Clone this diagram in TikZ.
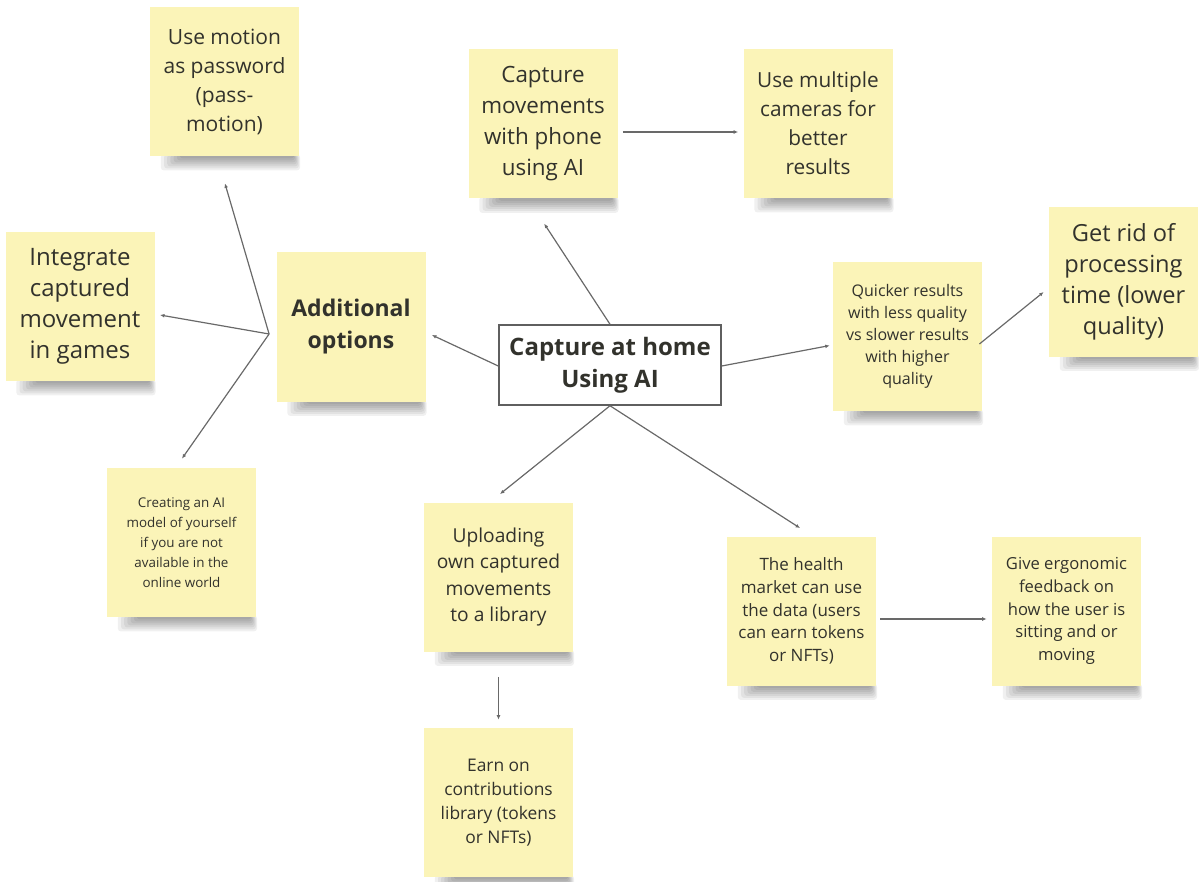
\documentclass[tikz,border=0pt]{standalone}
\usepackage{fontspec}
\setmainfont{Open Sans}
\usetikzlibrary{arrows.meta}
\definecolor{notefill}{RGB}{251,244,184}
\definecolor{ink}{RGB}{50,50,44}
\definecolor{wirecol}{RGB}{105,105,105}
\definecolor{boxline}{RGB}{95,95,95}
\pgfdeclarelayer{shadow}
\pgfsetlayers{shadow,main}
\begin{document}
\begin{tikzpicture}[x=0.5pt,y=-0.5pt,
  note/.style={fill=notefill, text=ink, minimum width=74.5pt, minimum height=74.5pt, inner sep=0pt, align=center},
  central/.style={fill=white, draw=boxline, line width=0.75pt, text=ink, minimum width=111pt, minimum height=40pt, inner sep=0pt, align=center, font=\bfseries\fontsize{12}{16}\selectfont},
  wire/.style={draw=wirecol, line width=0.6pt, -{Latex[length=2.2pt,width=1.9pt]}}
]
\useasboundingbox (0,0) rectangle (1199,882);

% nodes
\node[note, font=\fontsize{10.5}{14.5}\selectfont] (m1) at (224.5,81.5) {Use motion\\as password\\(pass-\\motion)};
\node[note, font=\fontsize{12}{15.5}\selectfont] (integ) at (80,306.5) {Integrate\\captured\\movement\\in games};
\node[note, font=\bfseries\fontsize{11.5}{16}\selectfont] (addl) at (351,327) {Additional\\options};
\node[note, font=\fontsize{6.7}{10}\selectfont] (creat) at (181.5,542.5) {Creating an AI\\model of yourself\\if you are not\\available in the\\online world};
\node[central] (cen) at (610,365) {Capture at home\\Using AI};
\node[note, font=\fontsize{11.2}{15.5}\selectfont] (capt) at (543,124) {Capture\\movements\\with phone\\using AI};
\node[note, font=\fontsize{10.4}{14.5}\selectfont] (multi) at (818,123.5) {Use multiple\\cameras for\\better\\results};
\node[note, font=\fontsize{8}{11}\selectfont] (quick) at (907.5,336.5) {Quicker results\\with less quality\\vs slower results\\with higher\\quality};
\node[note, font=\fontsize{11.8}{15.5}\selectfont] (getrid) at (1123.5,282) {Get rid of\\processing\\time (lower\\quality)};
\node[note, font=\fontsize{9.6}{13.2}\selectfont] (upload) at (498.5,577) {Uploading\\own captured\\movements\\to a library};
\node[note, font=\fontsize{8.7}{12}\selectfont] (earn) at (498.5,802.5) {Earn on\\contributions\\library (tokens\\or NFTs)};
\node[note, font=\fontsize{8.5}{11.3}\selectfont] (health) at (801.5,611) {The health\\market can use\\the data (users\\can earn tokens\\or NFTs)};
\node[note, font=\fontsize{8.3}{11.3}\selectfont] (give) at (1066.5,611) {Give ergonomic\\feedback on\\how the user is\\sitting and or\\moving};

% shadows
\begin{pgfonlayer}{shadow}
\foreach \n in {m1,integ,addl,creat,capt,multi,quick,getrid,upload,earn,health,give}{
  \foreach \k in {1,...,7}{
    \fill[black, opacity=0.06, rounded corners=1.5pt]
      ([xshift={4pt+1.6pt*\k}, yshift=1pt]\n.south west) rectangle
      ([xshift={0.8pt-0.5pt*\k}, yshift={-8pt+1pt*\k}]\n.south east);
  }
}
\end{pgfonlayer}

% connectors
\coordinate (br) at ([xshift=-3.5pt,yshift=-3.5pt]addl.west);
\draw[wire, shorten >=14.8pt] (cen.north) -- ([xshift=-7.5pt]capt.south);
\draw[wire, shorten <=2.5pt, shorten >=2.5pt] ([yshift=-4pt]capt.east) -- ([yshift=-4.25pt]multi.west);
\draw[wire, shorten >=1.5pt] ([yshift=-0.5pt]cen.east) -- ([yshift=-4.25pt]quick.west);
\draw[wire, shorten >=3.2pt] ([xshift=-1.5pt,yshift=-3.75pt]quick.east) -- ([yshift=-3pt]getrid.west);
\draw[wire, shorten >=6.4pt] (cen.south) -- ([xshift=-4.25pt]upload.north);
\draw[wire, shorten >=7.4pt] (cen.south) -- ([xshift=5.5pt]health.north);
\draw[wire, shorten <=12.5pt, shorten >=4pt] (upload.south) -- (earn.north);
\draw[wire, shorten <=2pt, shorten >=2.5pt] ([yshift=-4pt]health.east) -- ([yshift=-4pt]give.west);
\draw[wire, shorten >=3.3pt] ([yshift=-0.5pt]cen.west) -- ([yshift=-2.6pt]addl.east);
\draw[wire, shorten >=14.1pt] (br) -- ([xshift=-3.75pt]m1.south);
\draw[wire, shorten >=2.6pt] (br) -- ([yshift=-3.8pt]integ.east);
\draw[wire, shorten >=5.5pt] (br) -- ([xshift=-2.9pt]creat.north);
\end{tikzpicture}
\end{document}
